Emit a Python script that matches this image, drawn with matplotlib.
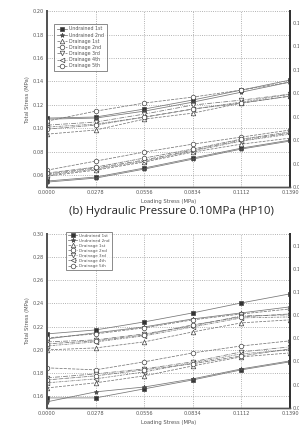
import numpy as np, matplotlib
matplotlib.use("Agg"); import matplotlib.pyplot as plt

plt.rcParams.update({"font.family": "DejaVu Sans", "font.size": 4})

x = [0.0000, 0.0278, 0.0556, 0.0834, 0.1112, 0.1390]
xticks = ["0.0000", "0.0278", "0.0556", "0.0834", "0.1112", "0.1390"]
labels = ["Undrained 1st", "Undrained 2nd", "Drainage 1st", "Drainage 2nd",
          "Drainage 3rd", "Drainage 4th", "Drainage 5th"]

# panel (a) HP05 - upper group on left axis, lower group on right axis
top_left = [
    [0.1088, 0.1097, 0.1165, 0.1242, 0.1327, 0.1412],
    [0.1079, 0.1088, 0.1147, 0.1224, 0.1309, 0.1395],
    [0.0951, 0.0986, 0.1079, 0.1130, 0.1216, 0.1275],
    [0.1062, 0.1147, 0.1216, 0.1267, 0.1327, 0.1395],
    [0.1028, 0.1054, 0.1122, 0.1199, 0.1241, 0.1292],
    [0.1011, 0.1037, 0.1096, 0.1165, 0.1224, 0.1292],
    [0.0994, 0.1028, 0.1096, 0.1165, 0.1216, 0.1275],
]
top_right = [
    [0.0051, 0.0085, 0.0162, 0.0247, 0.0332, 0.0400],
    [0.0042, 0.0076, 0.0153, 0.0238, 0.0324, 0.0392],
    [0.0093, 0.0144, 0.0213, 0.0298, 0.0366, 0.0417],
    [0.0144, 0.0221, 0.0298, 0.0366, 0.0426, 0.0486],
    [0.0110, 0.0162, 0.0230, 0.0315, 0.0400, 0.0460],
    [0.0102, 0.0153, 0.0221, 0.0307, 0.0392, 0.0451],
    [0.0119, 0.0170, 0.0247, 0.0324, 0.0409, 0.0469],
]
# panel (b) HP10
bot_left = [
    [0.2138, 0.2172, 0.2241, 0.2319, 0.2405, 0.2483],
    [0.2095, 0.2147, 0.2198, 0.2267, 0.2319, 0.2371],
    [0.2000, 0.2017, 0.2069, 0.2155, 0.2233, 0.2259],
    [0.2103, 0.2138, 0.2190, 0.2259, 0.2310, 0.2353],
    [0.2069, 0.2086, 0.2138, 0.2207, 0.2293, 0.2302],
    [0.2034, 0.2069, 0.2121, 0.2198, 0.2276, 0.2284],
    [0.2052, 0.2078, 0.2129, 0.2216, 0.2284, 0.2310],
]
bot_right = [
    [0.0086, 0.0086, 0.0164, 0.0241, 0.0328, 0.0397],
    [0.0052, 0.0138, 0.0180, 0.0250, 0.0336, 0.0405],
    [0.0172, 0.0216, 0.0276, 0.0362, 0.0440, 0.0474],
    [0.0345, 0.0328, 0.0397, 0.0474, 0.0534, 0.0578],
    [0.0259, 0.0293, 0.0336, 0.0397, 0.0483, 0.0526],
    [0.0216, 0.0250, 0.0310, 0.0388, 0.0466, 0.0500],
    [0.0241, 0.0276, 0.0328, 0.0380, 0.0448, 0.0509],
]

markers = ["s", "*", "^", "o", "v", "<", "o"]
styles = ["-", "-", "--", (0, (4, 1.5)), "-.", (0, (3, 1, 1, 1, 1, 1)), (0, (5, 1, 1, 1))]
fills = ["#333333", "#555555", "white", "white", "white", "white", "white"]

fig = plt.figure(figsize=(2.99, 4.28), dpi=100)
ax1 = fig.add_axes([0.157, 0.563, 0.813, 0.411])
ax2 = fig.add_axes([0.157, 0.047, 0.813, 0.4065])

def panel(ax, left, right, ylo, legbox, legfs):
    axr = ax.twinx()
    for i in range(7):
        kw = dict(color="#777777", lw=0.55, ls=styles[i], marker=markers[i], ms=3.3,
                  mfc=fills[i], mec="#444444", mew=0.5, label=labels[i])
        ax.plot(x, left[i], **kw)
        axr.plot(x, right[i], **kw)
    ax.set_xlim(0, 0.139); ax.set_ylim(ylo, ylo + 0.15)
    axr.set_ylim(0, 0.15)
    ax.set_xticks(x); ax.set_xticklabels(xticks)
    ax.set_yticks(np.arange(ylo + 0.01, ylo + 0.151, 0.02))
    axr.set_yticks(np.arange(0, 0.141, 0.02))
    ax.yaxis.set_major_formatter("{x:.2f}")
    axr.yaxis.set_major_formatter("{x:.2f}")
    ax.grid(True, ls=":", color="#999999", lw=0.6)
    for a in (ax, axr):
        a.tick_params(length=0, labelsize=3.6, labelcolor="#555555", pad=2)
        a.spines["top"].set_visible(False)
        a.spines["left"].set_linewidth(1.4); a.spines["left"].set_color("#555555")
        a.spines["right"].set_linewidth(1.4); a.spines["right"].set_color("#333333")
        a.spines["bottom"].set_linewidth(1.0); a.spines["bottom"].set_color("#555555")
    ax.set_xlabel("Loading Stress (MPa)", fontsize=3.8, color="#555555", labelpad=3)
    ax.set_ylabel("Total Stress (MPa)", fontsize=3.8, color="#555555", labelpad=2)
    leg = ax.legend(loc="upper left", bbox_to_anchor=legbox, fontsize=legfs, frameon=True,
                    fancybox=False, edgecolor="#555555", handlelength=2.2, borderpad=0.5,
                    labelspacing=0.25, handletextpad=0.5)
    leg.get_frame().set_linewidth(0.6)
    for t in leg.get_texts():
        t.set_color("#555555")

panel(ax1, top_left, top_right, 0.05, (0.02, 0.94), 3.4)
panel(ax2, bot_left, bot_right, 0.15, (0.07, 1.025), 3.0)

fig.text(0.575, 0.505, "(b) Hydraulic Pressure 0.10MPa (HP10)", ha="center", va="center",
         fontsize=8.2, family="Open Sans", color="#222222")

fig.savefig("out.png", dpi=100)
